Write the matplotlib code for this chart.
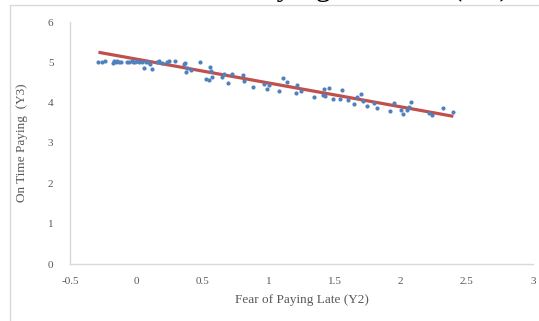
import numpy as np
import matplotlib
matplotlib.use("Agg")
from matplotlib import pyplot as plt
from matplotlib import patches as pth

# Fear of Paying Late (Y2) vs On Time Paying (Y3)
fear_late = [-0.285, -0.259, -0.234, -0.172, -0.164, -0.151, -0.141, -0.126, -0.113,
             -0.070, -0.051, -0.033, -0.020, -0.008, 0.005, 0.023, 0.043, 0.063, 0.076,
             0.093, 0.106, 0.123, 0.156, 0.174, 0.194, 0.237, 0.252, 0.295,
             0.358, 0.370, 0.378, 0.383, 0.416, 0.484, 0.527, 0.552, 0.559, 0.565, 0.577,
             0.652, 0.665, 0.698, 0.726, 0.806, 0.819, 0.887, 0.967, 0.988, 1.005,
             1.081, 1.113, 1.139, 1.207, 1.219, 1.247, 1.343, 1.416, 1.419, 1.429,
             1.459, 1.487, 1.544, 1.555, 1.605, 1.648, 1.673, 1.703, 1.714, 1.744,
             1.801, 1.819, 1.922, 1.950, 2.001, 2.016, 2.046, 2.061, 2.081,
             2.215, 2.240, 2.320, 2.398]
on_time = [5.02, 5.02, 5.04, 4.99, 5.03, 5.02, 5.03, 5.02, 5.02,
           5.02, 5.02, 5.03, 5.02, 5.00, 5.03, 5.00, 5.02, 4.86, 5.00,
           5.02, 4.95, 4.83, 5.00, 5.04, 4.98, 5.00, 5.04, 5.03,
           4.95, 4.99, 4.77, 4.87, 4.81, 5.01, 4.59, 4.55, 4.89, 4.78, 4.64,
           4.64, 4.70, 4.49, 4.72, 4.68, 4.54, 4.40, 4.47, 4.35, 4.45,
           4.29, 4.61, 4.52, 4.25, 4.43, 4.28, 4.15, 4.19, 4.33, 4.17,
           4.37, 4.08, 4.10, 4.31, 4.06, 3.96, 4.14, 4.22, 4.05, 3.91,
           3.98, 3.88, 3.79, 4.00, 3.83, 3.72, 3.81, 3.90, 4.01,
           3.75, 3.69, 3.87, 3.77]

# linear trendline as shown in the picture: slope, intercept
trend_coef = [-0.592, 5.081]

x_ticks = [-0.5, 0, 0.5, 1, 1.5, 2, 2.5, 3]
x_tick_labels = ["-0.5", "0", "0.5", "1", "1.5", "2", "2.5", "3"]
y_ticks = [0, 1, 2, 3, 4, 5, 6]

plt.rcParams['font.family'] = ['Liberation Serif', 'DejaVu Serif']

W, H = 539, 321
fig = plt.figure(figsize=(W / 100, H / 100), dpi=100)
ax = fig.add_axes([70 / W, 1 - 264 / H, (533 - 70) / W, (264 - 22) / H])

# chart border (partly cropped in the reference)
fig.add_artist(pth.Rectangle((10 / W, -0.1), 1.2, 1 - 5 / H + 0.1,
                             transform=fig.transFigure, fill=False,
                             edgecolor='#d9d9d9', lw=1.0))

# cropped title at the very top, only its descenders show
fig.text(510 / W, 1 + 5 / H, "On Time Paying and Late (Y2)",
         ha='right', va='baseline', fontsize=22, color='black')

ax.scatter(fear_late, on_time, s=9, color='#4f81bd', zorder=3, linewidths=0)

x = np.array(fear_late)
xx = np.array([x.min(), x.max()])
ax.plot(xx, np.polyval(trend_coef, xx), color='#c0504d', lw=2.3, zorder=2,
        solid_capstyle='butt')

ax.set_xlim(-0.5, 3)
ax.set_ylim(0, 6)
ax.set_xticks(x_ticks)
ax.set_xticklabels(x_tick_labels)
ax.set_yticks(y_ticks)
ax.tick_params(length=0, labelsize=8, colors='#595959')
ax.tick_params(axis='x', pad=9)
ax.tick_params(axis='y', pad=12)
for s in ['top', 'right']:
    ax.spines[s].set_visible(False)
for s in ['left', 'bottom']:
    ax.spines[s].set_color('#d9d9d9')
    ax.spines[s].set_linewidth(1.0)

ax.set_xlabel("Fear of Paying Late (Y2)", fontsize=9.5, color='#595959', labelpad=6)
ax.set_ylabel("On Time Paying  (Y3)", fontsize=9.5, color='#595959', labelpad=14)

fig.savefig("out.png", dpi=100)
